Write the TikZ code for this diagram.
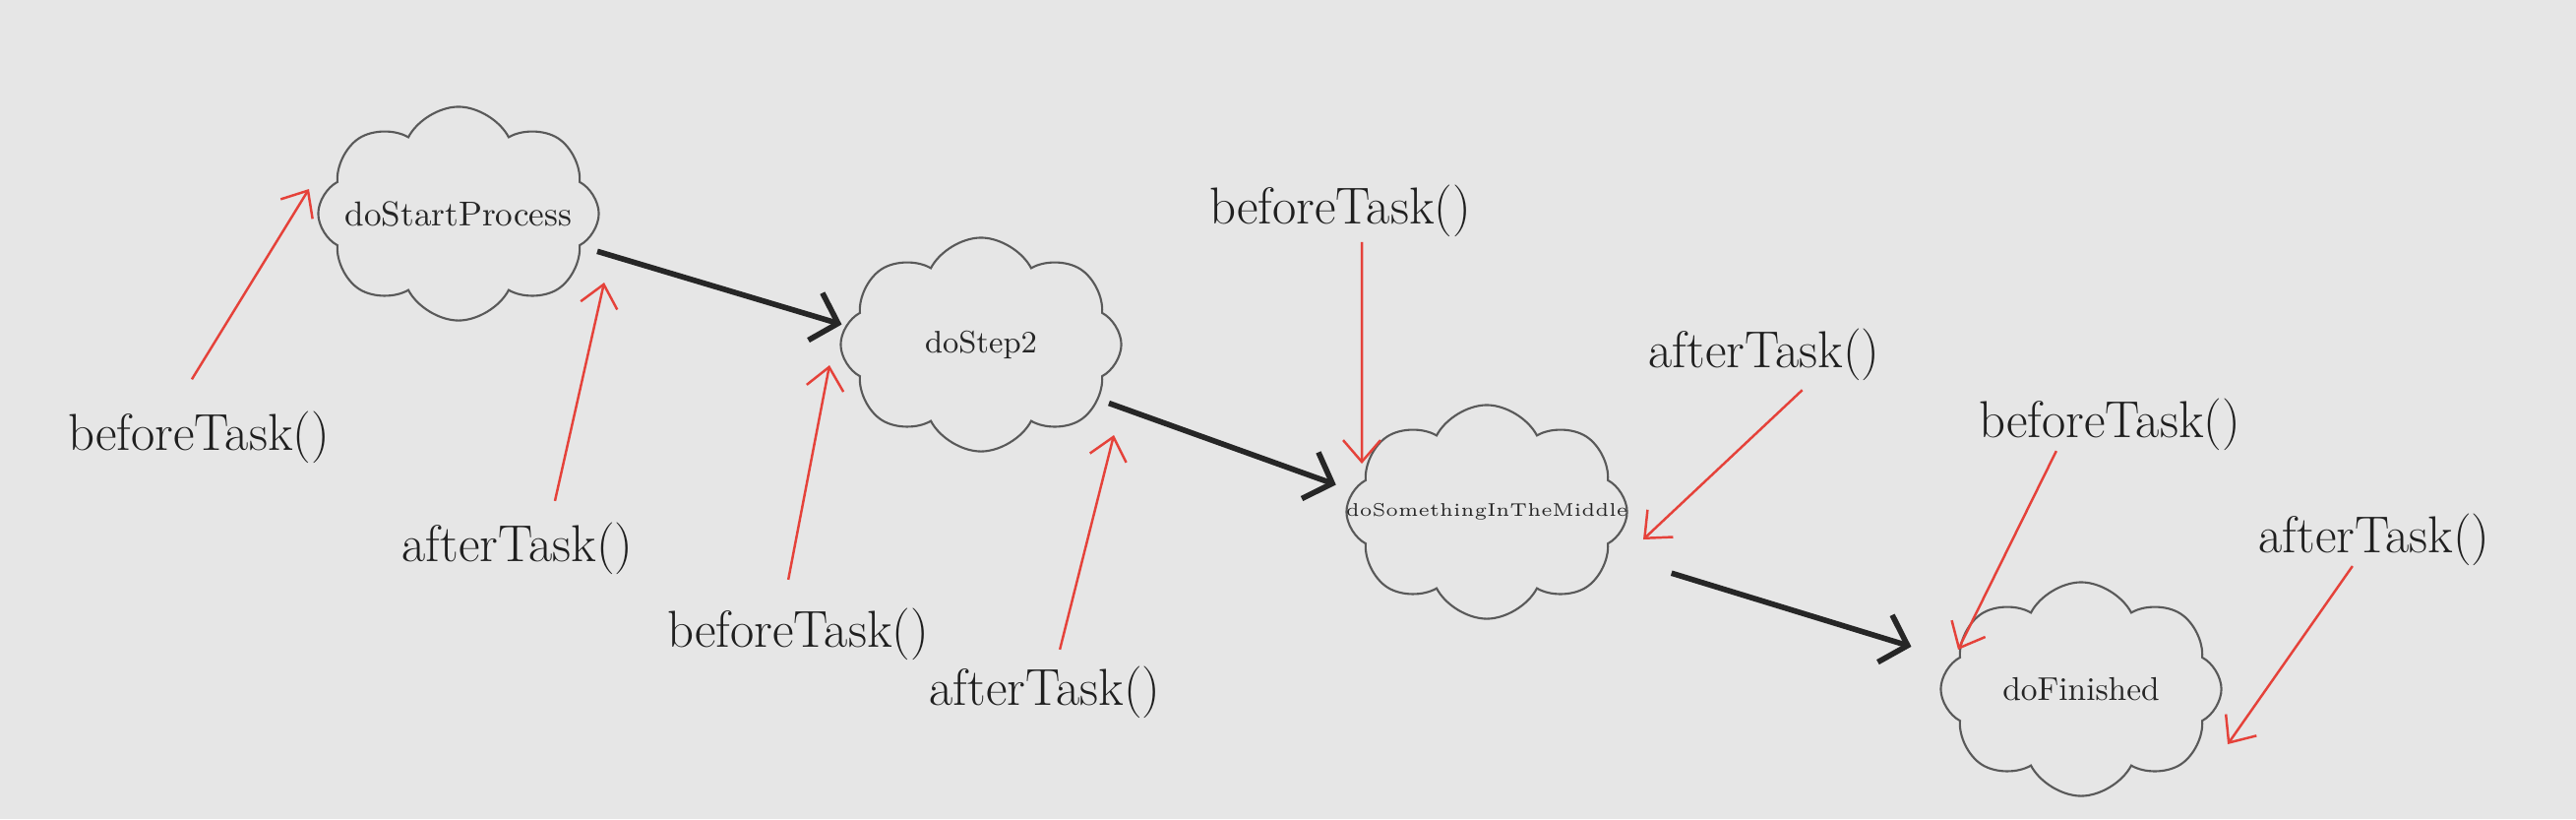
\documentclass[tikz,border=0pt]{standalone}
\usetikzlibrary{shapes.symbols,arrows.meta}
\definecolor{bgpaper}{HTML}{E6E6E6}
\definecolor{hookred}{HTML}{E5423A}
\newcommand{\tasktext}[1]{\makebox[0pt][c]{#1}}
\begin{document}
\begin{tikzpicture}[x=0.01cm, y=-0.01cm,
    task/.style={cloud, cloud puffs=8, cloud puff arc=125, aspect=1.3, draw=black!65, line width=0.6pt,
      minimum width=2.85cm, minimum height=2.17cm, inner sep=0pt, text=black!85},
    hooklbl/.style={font=\fontsize{15}{17}\selectfont, text=black!88, inner sep=0pt},
    flow/.style={line width=1.6pt, black!85, -{Straight Barb[length=2.4mm, width=5mm]}},
    hook/.style={line width=0.7pt, hookred, -{Straight Barb[length=2.2mm, width=3.8mm]}}]
  \fill[bgpaper] (0,0) rectangle (2618,832);
  \useasboundingbox (0,0) rectangle (2618,832);

  \node[task, font=\fontsize{10}{12}\selectfont] (start) at (466,217) {\tasktext{doStartProcess}};
  \node[task, font=\fontsize{9}{11}\selectfont] (step2) at (997,350) {\tasktext{doStep2}};
  \node[task, font=\fontsize{5.3}{7}\selectfont] (middle) at (1511,520) {\tasktext{doSomethingInTheMiddle}};
  \node[task, font=\fontsize{9.5}{11}\selectfont] (finish) at (2115,700) {\tasktext{doFinished}};

  \draw[flow, shorten <=5pt, shorten >=1pt] (start.-15) -- (step2.172);
  \draw[flow, shorten <=3pt, shorten >=5pt] (step2.-25) -- (middle.171);
  \draw[flow, shorten <=19pt, shorten >=13pt] (middle.-19) -- (finish.167);

  \node[hooklbl] (b1) at (202,444) {beforeTask()};
  \node[hooklbl] (a1) at (526,557) {afterTask()};
  \node[hooklbl] (b2) at (811,644) {beforeTask()};
  \node[hooklbl] (a2) at (1062,703) {afterTask()};
  \node[hooklbl] (b3) at (1362,214) {beforeTask()};
  \node[hooklbl] (a3) at (1793,360) {afterTask()};
  \node[hooklbl] (b4) at (2144,431) {beforeTask()};
  \node[hooklbl] (a4) at (2413,548) {afterTask()};

  \coordinate (b1t) at (314,192);
  \coordinate (a1t) at (614,287);
  \coordinate (b2t) at (843,371);
  \coordinate (a2t) at (1132,442);
  \coordinate (b3t) at (1384,471);
  \coordinate (a3t) at (1670,548);
  \coordinate (b4t) at (1990,660);
  \coordinate (a4t) at (2264,756);

  \draw[hook] ([shift={(-2pt,9pt)}]b1.north) -- (b1t);
  \draw[hook] ([shift={(10.8pt,6pt)}]a1.north) -- (a1t);
  \draw[hook] ([shift={(-2.8pt,8pt)}]b2.north) -- (b2t);
  \draw[hook] ([shift={(4.3pt,4.6pt)}]a2.north) -- (a2t);
  \draw[hook] ([shift={(6.3pt,-1.4pt)}]b3.south) -- (b3t);
  \draw[hook] ([shift={(11pt,-2.6pt)}]a3.south) -- (a3t);
  \draw[hook] ([shift={(-15.4pt,0pt)}]b4.south) -- (b4t);
  \draw[hook] ([shift={(-6.3pt,0pt)}]a4.south) -- (a4t);
\end{tikzpicture}
\end{document}
